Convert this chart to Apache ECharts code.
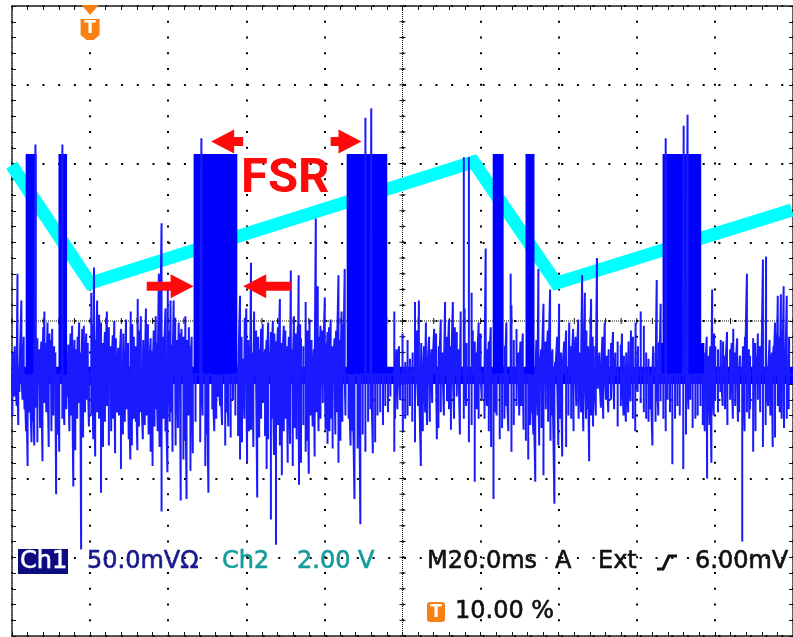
<!DOCTYPE html>
<html>
<head>
<meta charset="utf-8">
<script src="https://cdn.jsdelivr.net/npm/echarts@6/dist/echarts.min.js"></script>
<style>
html, body { margin: 0; padding: 0; background: #ffffff; }
#scope { width: 793px; height: 637px; }
</style>
</head>
<body>
<div id="scope"></div>
<script>
// Horizontal: 20 ms/div, trigger point (t = 0) at 10 % of the record
const timeRange = [-20, 180];
const timeStep = 20;
// Ch1: 50 mV/div, Ch2: 2.00 V/div (8 divisions, centred on 0)
const ch1Range = [-200, 200];
const ch1Step = 50;
const ch2Range = [-8, 8];
const ch2Step = 2;

// Ch2: ramp waveform, vertices [ms, V]
const ch2Ramp = [[-20.1, 3.96], [0.0, 0.96], [98.2, 4.04], [119.4, 0.96], [179.7, 2.82]];

// Ch1: noise floor level and its solid band, mV
const ch1Baseline = -34;
const ch1NoiseBand = [-29, -40];

// Ch1: FSR bursts [start ms, end ms, top mV]
const ch1Bursts = [
  [-16.5, -13.7, 106],
  [-8.1, -5.9, 106],
  [26.5, 37.7, 106],
  [65.7, 76.1, 106],
  [103.1, 105.9, 106],
  [111.5, 113.8, 106],
  [146.6, 156.5, 106],
  [145.3, 157.3, -14]
];

// Ch1: positive spikes [ms, peak mV]
const ch1SpikesUp = [
  [-19.8, -20], [-19.3, -16], [-18.6, 30], [-17.6, 13], [-17.0, -10], [-14.0, 112], [-13.5, -11], [-13.0, -18],
  [-12.5, -13], [-12.0, -4], [-11.7, 6], [-11.4, -14], [-10.9, -1], [-10.4, -8], [-10.0, -12], [-9.7, -5],
  [-9.2, -16], [-8.9, -20], [-7.1, 112], [-5.6, -15], [-5.0, -8], [-4.6, -3], [-4.0, -12], [-3.6, -18],
  [-3.2, -10], [-2.8, -1], [-2.5, -20], [-2.0, -5], [-1.6, -3], [-1.0, -8], [-0.6, -14], [0.3, 18], [0.6, -2],
  [1.0, 34], [1.4, -12], [1.8, 13], [2.3, 4], [2.8, -1], [3.3, -14], [3.8, -7], [4.3, 6], [4.8, -4], [5.3, -16],
  [5.8, -9], [6.2, 0], [6.6, -11], [7.2, -17], [7.9, -5], [8.5, -8], [9.2, 1], [9.7, -14], [10.4, 6], [10.8, -2],
  [11.2, -10], [11.7, -16], [12.2, 14], [12.7, -6], [13.0, 3], [13.6, -12], [14.3, 8], [14.8, -2], [15.5, -11],
  [15.9, -19], [16.3, -6], [16.8, 3], [17.0, -14], [17.6, 30], [18.3, 62], [18.8, -10], [19.3, 8], [19.9, 20],
  [20.2, -6], [20.6, 13], [21.0, -15], [21.4, 13], [21.8, 2], [22.2, -12], [22.7, -1], [23.0, -8], [23.4, -5],
  [23.9, -10], [24.4, 3], [24.9, -12], [25.3, -4], [25.7, -16], [26.0, -10], [28.5, 116],
  [38.4, 16], [38.8, -10], [39.2, -24], [39.6, 2], [40.0, 8], [40.5, -12], [41.0, -16], [41.2, 37], [41.6, -20],
  [42.0, 6], [42.5, -6], [43.0, -10], [43.4, -18], [43.8, -5], [44.2, -2], [44.8, -18], [45.2, -12], [45.6, -1],
  [46.0, -20], [46.3, -7], [46.8, 0], [47.2, -8], [47.6, -13], [48.1, -4], [48.6, 14], [49.1, -14], [49.6, -3],
  [50.0, -6], [50.4, -16], [50.9, -10], [51.4, 32], [51.8, -18], [52.2, 3], [52.7, -8], [53.2, -3], [53.4, 29],
  [53.8, -2], [54.0, -11], [54.6, -16], [55.2, 12], [55.7, -6], [56.2, 1], [56.7, -12], [57.3, -18], [57.8, 65],
  [58.3, 22], [58.7, -10], [59.0, -3], [59.5, -6], [60.1, 15], [60.4, -14], [60.8, -7], [61.2, -4], [61.6, 1],
  [62.1, -16], [62.6, -11], [63.0, -6], [63.6, 29], [64.0, -12], [64.4, 6], [64.8, -2], [65.2, 33], [70.5, 129],
  [72.0, 135],
  [77.9, 6], [78.5, -18], [79.1, -16], [80.0, -8], [80.7, -26], [81.3, -12], [81.9, -24], [82.6, -20], [83.2, 12],
  [83.7, -6], [84.2, 13], [84.8, -14], [85.5, -16], [86.0, -1], [86.8, -10], [87.4, -18], [88.1, -5], [88.6, -8],
  [89.3, -16], [89.8, 1], [90.3, -20], [90.9, 12], [91.4, -10], [91.9, 1], [92.4, -16], [92.9, 12], [93.4, -4],
  [93.9, -7], [94.4, -18], [94.9, 6], [95.7, 104], [95.9, 8], [96.4, -14], [97.0, 104], [97.7, 18], [98.0, -6],
  [98.5, -13], [99.0, -20], [99.5, -1], [100.0, -8], [101.3, 46], [101.8, -18], [102.1, -13], [102.6, -4],
  [106.2, -16], [106.6, -1], [107.7, 30], [107.9, 10], [108.5, -12], [109.2, -5], [109.7, -20], [110.2, -13],
  [110.8, -8], [114.3, -12], [114.8, 33], [115.5, -18], [116.1, 11], [116.6, -13], [117.2, -6], [117.8, 20],
  [118.4, -18], [119.1, -26], [119.6, -10], [120.1, 11], [120.6, -20], [121.4, -13], [121.9, -6], [122.7, -1],
  [123.2, -16], [123.7, -5], [124.3, -10], [125.0, 1], [125.5, -20], [126.0, 29], [126.7, 18], [127.1, -6],
  [127.5, -16], [127.9, -22], [128.3, 14], [128.7, -10],
  [129.0, -16], [129.8, 40], [130.4, -20], [131.2, -10], [131.8, -1], [132.3, -22], [132.8, -18], [133.4, -14],
  [133.9, -7], [134.5, -20], [135.1, -13], [135.9, -15], [136.2, -8], [136.7, -22], [137.3, -20], [137.9, -13],
  [138.5, -6], [139.0, -10], [139.7, -1], [140.3, -16], [141.0, 6], [141.8, -3], [142.4, -20], [143.0, -24],
  [144.2, -16], [144.8, -20], [145.1, 26], [145.8, -13], [146.1, 11], [147.4, 116], [152.0, 124], [153.0, 131],
  [157.5, -20], [157.9, -10], [158.3, -22], [158.8, -16], [159.3, 20], [159.8, -8], [160.1, -16], [160.8, -18],
  [161.5, -12], [162.1, -13], [162.6, -22], [163.1, -7], [163.9, -18], [164.3, -14], [164.7, -5], [165.2, -20],
  [165.7, -11], [166.4, -22], [167.2, -16], [167.7, -10], [168.2, 30], [168.7, -18], [169.0, -22], [169.8, -11],
  [170.3, -14], [170.8, -22], [171.0, -8], [171.5, -16], [171.9, -20], [172.3, 39], [173.1, 41], [174.0, -12],
  [174.6, -20], [175.0, -16], [175.4, -1], [175.8, -8], [176.1, 16], [176.5, -10], [176.9, 17], [177.3, -6],
  [177.6, 22], [178.0, -18], [178.4, 16], [179.0, -10]
];

// Ch1: negative spikes [ms, peak mV]
const ch1SpikesDown = [
  [-19.9, -60], [-19.5, -48], [-18.8, -54], [-18.4, -66], [-18.1, -45], [-17.3, -50], [-16.8, -56], [-16.4, -70],
  [-16.0, -92], [-15.5, -58], [-15.0, -77], [-14.7, -64], [-14.3, -79], [-13.9, -55], [-13.5, -77], [-12.8, -68],
  [-12.2, -89], [-11.7, -52], [-11.2, -58], [-10.6, -80], [-9.9, -70], [-9.4, -60], [-8.7, -110], [-8.2, -72],
  [-7.9, -83], [-7.1, -62], [-6.6, -66], [-6.1, -56], [-5.7, -48], [-5.3, -70], [-4.8, -60], [-4.3, -105],
  [-3.8, -82], [-3.3, -62], [-2.8, -52], [-2.3, -145], [-1.8, -74], [-1.3, -58], [-0.8, -50], [-0.3, -67],
  [0.3, -60], [0.8, -75], [1.3, -86], [1.8, -58], [2.3, -62], [2.8, -109], [3.3, -80], [3.8, -64], [4.3, -54],
  [4.8, -79], [5.4, -70], [5.9, -62], [6.4, -84], [6.9, -58], [7.4, -60], [7.9, -94], [8.4, -72], [8.9, -64],
  [9.4, -56], [9.9, -75], [10.3, -88], [10.7, -79], [11.2, -62], [11.7, -64], [12.1, -82], [12.5, -67],
  [13.0, -58], [13.5, -75], [14.0, -66], [14.5, -60], [15.0, -72], [15.5, -83], [16.0, -92], [16.5, -67],
  [16.9, -56], [17.3, -70], [17.8, -80], [18.3, -121], [18.8, -62], [19.3, -70], [19.8, -96], [20.4, -64],
  [20.8, -58], [21.1, -83], [21.9, -79], [22.5, -68], [23.2, -114], [23.9, -88], [24.3, -76], [24.7, -113],
  [25.2, -60], [25.7, -95], [26.3, -84], [27.0, -64],
  [28.2, -77], [28.8, -60], [29.5, -92], [29.9, -72], [30.3, -109], [31.3, -56], [31.8, -70], [32.3, -62],
  [32.8, -48], [33.3, -54], [33.8, -66], [34.6, -79], [35.0, -58], [35.4, -67], [36.0, -74], [36.6, -50],
  [37.2, -60], [37.9, -73], [38.4, -88], [38.9, -77], [39.5, -62], [40.2, -90], [40.7, -70], [41.2, -69],
  [41.8, -80], [42.8, -112], [43.3, -74], [43.8, -62], [44.3, -52], [44.8, -73], [45.2, -94], [45.6, -75],
  [46.3, -126], [46.8, -62], [47.1, -85], [47.6, -142], [48.1, -66], [48.6, -79], [49.1, -98], [49.6, -70],
  [50.1, -62], [50.6, -90], [51.2, -78], [51.9, -92], [52.4, -68], [52.9, -75], [53.5, -104], [54.0, -90],
  [54.6, -66], [55.2, -83], [55.6, -76], [56.0, -97], [56.5, -60], [57.0, -67], [57.5, -86], [58.0, -58],
  [58.5, -70], [59.0, -62], [59.6, -52], [60.3, -69], [60.8, -78], [61.3, -70], [61.7, -62], [62.1, -81],
  [62.8, -72], [63.1, -58], [63.6, -90], [64.1, -76], [64.6, -64], [65.4, -60], [66.2, -62], [66.7, -79],
  [67.2, -70], [67.7, -113], [68.5, -81], [68.9, -64], [69.2, -129], [69.8, -72], [70.5, -83], [71.2, -64],
  [71.8, -56], [72.4, -84], [73.0, -77], [73.6, -60], [74.3, -58], [75.0, -66], [75.6, -54], [76.3, -58],
  [76.9, -48], [77.9, -83], [78.1, -62],
  [78.7, -56], [79.4, -50], [80.1, -70], [80.7, -62], [81.3, -60], [81.9, -54], [82.5, -64], [83.2, -77],
  [84.0, -54], [84.7, -92], [85.2, -70], [85.8, -58], [86.3, -66], [87.0, -64], [87.6, -52], [88.8, -75],
  [89.2, -68], [89.8, -58], [90.6, -60], [91.4, -51], [91.9, -56], [92.4, -69], [93.2, -62], [93.9, -48],
  [94.7, -72], [95.7, -62], [96.3, -54], [97.0, -77], [97.7, -66], [98.5, -102], [99.0, -56], [99.5, -62],
  [100.3, -50], [101.0, -62], [101.6, -54], [102.1, -70], [102.7, -80], [103.3, -113], [103.7, -58],
  [104.1, -60], [104.9, -75], [105.5, -68], [106.1, -62], [106.6, -54], [107.1, -70], [107.9, -83], [108.5, -66],
  [109.2, -54], [109.9, -60], [110.4, -54], [111.0, -69], [111.6, -76], [112.2, -88], [112.7, -66], [113.0, -58],
  [113.5, -72], [114.0, -102], [114.6, -60], [115.0, -79], [115.6, -68], [116.1, -98], [116.7, -56], [117.3, -64],
  [117.9, -76], [118.4, -60], [118.9, -116], [119.9, -79], [120.4, -62], [120.9, -86], [121.9, -80], [122.5, -60],
  [123.2, -62], [123.8, -70], [124.5, -54], [125.1, -62], [125.7, -58], [126.3, -70], [127.0, -62], [127.3, -56],
  [127.8, -89], [128.3, -60], [128.8, -67],
  [129.5, -60], [130.0, -43], [130.8, -55], [131.4, -62], [132.1, -50], [132.7, -58], [133.4, -50], [134.2, -56],
  [135.1, -67], [135.9, -54], [136.6, -60], [137.2, -64], [137.8, -58], [138.4, -51], [139.0, -62], [139.6, -70],
  [140.2, -45], [141.0, -52], [141.8, -58], [142.4, -62], [143.0, -64], [143.5, -56], [144.0, -79], [144.8, -64],
  [145.5, -60], [146.1, -51], [146.8, -62], [147.4, -70], [147.9, -50], [148.5, -58], [149.1, -91], [149.8, -62],
  [150.4, -54], [151.0, -60], [151.9, -94], [152.6, -72], [153.2, -56], [153.7, -50], [154.3, -68], [155.0, -62],
  [155.6, -60], [156.3, -54], [156.9, -66], [157.4, -70], [158.0, -100], [158.6, -66], [159.1, -90], [159.7, -60],
  [160.1, -50], [160.8, -58], [161.4, -45], [162.0, -54], [162.6, -56], [163.2, -66], [163.9, -50], [164.6, -62],
  [165.2, -54], [165.9, -64], [166.2, -58], [167.0, -140], [167.6, -70], [168.2, -58], [168.8, -62], [169.0, -56],
  [169.8, -83], [170.4, -70], [171.0, -50], [171.6, -58], [172.3, -80], [173.0, -66], [173.6, -54], [174.2, -60],
  [174.8, -80], [175.4, -74], [176.1, -54], [176.6, -58], [177.1, -62], [177.7, -68], [178.4, -62], [178.9, -56]
];

// FSR annotation arrows [tail ms, tail mV, tip ms, tip mV]
const fsrArrows = [
  [39.2, 114, 31.0, 114],
  [61.6, 114, 69.5, 114],
  [14.5, 22, 26.5, 22],
  [51.4, 22, 39.2, 22]
];
const triggerTime = 0;

const BLUE = '#0000ff';
const CYAN = '#00ffff';
const ORANGE = '#f98012';
const RED = '#ff0a0a';
const GRID_INK = '#111111';
const FONT = '"DejaVu Sans", sans-serif';

// Each spike is drawn as a vertical excursion from the noise floor and back.
function spikePath() {
  const all = ch1SpikesUp.concat(ch1SpikesDown).sort((a, b) => a[0] - b[0]);
  const pts = [[timeRange[0], ch1Baseline]];
  all.forEach(([t, v]) => { pts.push([t, ch1Baseline], [t, v], [t, ch1Baseline]); });
  pts.push([timeRange[1], ch1Baseline]);
  return pts;
}

function borderAxis(extra) {
  return Object.assign({
    type: 'value',
    axisLine: { show: true, onZero: false, lineStyle: { color: GRID_INK, width: 1.5, type: [1, 1] } },
    axisTick: { show: true, inside: true, length: 4, lineStyle: { color: GRID_INK, width: 1 } },
    minorTick: { show: true, splitNumber: 5, length: 4, lineStyle: { color: GRID_INK, width: 1 } },
    axisLabel: { show: false },
    splitLine: { show: false }
  }, extra);
}

// centre cross of the graticule: fine dotted lines with a tick at every minor division
function renderCross(params, api) {
  const r = params.coordSys;
  const c = api.coord([(timeRange[0] + timeRange[1]) / 2, 0]);
  const div = api.size([timeStep, ch1Step]);
  const kids = [];
  const fine = { stroke: GRID_INK, lineWidth: 1, lineDash: [1, 1] };
  kids.push({ type: 'line', shape: { x1: r.x, y1: c[1], x2: r.x + r.width, y2: c[1] }, style: fine });
  kids.push({ type: 'line', shape: { x1: c[0], y1: r.y, x2: c[0], y2: r.y + r.height }, style: fine });
  const tick = { stroke: GRID_INK, lineWidth: 1 };
  for (let i = -25; i <= 25; i++) {
    const x = c[0] + i * div[0] / 5;
    kids.push({ type: 'line', shape: { x1: x, y1: c[1] - 3, x2: x, y2: c[1] + 3 }, style: tick });
  }
  for (let i = -20; i <= 20; i++) {
    const y = c[1] + i * div[1] / 5;
    kids.push({ type: 'line', shape: { x1: c[0] - 3, y1: y, x2: c[0] + 3, y2: y }, style: tick });
  }
  return { type: 'group', children: kids };
}

function renderBlock(params, api) {
  const p1 = api.coord([api.value(0), api.value(2)]);
  const p2 = api.coord([api.value(1), api.value(3)]);
  return {
    type: 'rect',
    shape: { x: p1[0], y: Math.min(p1[1], p2[1]), width: p2[0] - p1[0], height: Math.abs(p2[1] - p1[1]) },
    style: { fill: BLUE }
  };
}

function renderArrow(params, api) {
  const a = api.coord([api.value(0), api.value(1)]);
  const b = api.coord([api.value(2), api.value(3)]);
  const dx = b[0] - a[0], dy = b[1] - a[1];
  const len = Math.hypot(dx, dy);
  const ux = dx / len, uy = dy / len, nx = -uy, ny = ux;
  const shaft = 4.5, head = 12, headLen = 23;
  const bx = b[0] - ux * headLen, by = b[1] - uy * headLen;
  const pts = [
    [a[0] + nx * shaft, a[1] + ny * shaft],
    [bx + nx * shaft, by + ny * shaft],
    [bx + nx * head, by + ny * head],
    [b[0], b[1]],
    [bx - nx * head, by - ny * head],
    [bx - nx * shaft, by - ny * shaft],
    [a[0] - nx * shaft, a[1] - ny * shaft]
  ];
  return { type: 'polygon', shape: { points: pts }, style: { fill: RED } };
}

function renderTrigger(params, api) {
  const x = api.coord([api.value(0), 0])[0];
  const top = params.coordSys.y;
  return {
    type: 'group',
    children: [
      { type: 'polygon', shape: { points: [[x - 8.5, top - 1], [x + 8.5, top - 1], [x, top + 9]] }, style: { fill: ORANGE } },
      { type: 'polygon', shape: { points: [[x - 9.5, top + 13], [x + 9.5, top + 13], [x + 9.5, top + 29], [x + 3.5, top + 34], [x - 3.5, top + 34], [x - 9.5, top + 29]] }, style: { fill: ORANGE } },
      { type: 'text', x: x, y: top + 23, style: { text: 'T', fill: '#ffffff', font: 'bold 17px ' + FONT, align: 'center', verticalAlign: 'middle' } }
    ]
  };
}

function label(text, x, y, color, extra) {
  return Object.assign({
    type: 'text', x: x, y: y, z: 100,
    style: { text: text, fill: color, stroke: color, lineWidth: 0.6, font: '24px ' + FONT, verticalAlign: 'middle' }
  }, extra || {});
}

const chart = echarts.init(document.getElementById('scope'), null, { renderer: 'canvas' });

chart.setOption({
  animation: false,
  backgroundColor: '#ffffff',
  grid: { left: 12, top: 6, width: 786, height: 630, containLabel: false },
  xAxis: [
    borderAxis({ min: timeRange[0], max: timeRange[1], interval: timeStep, position: 'bottom',
      splitLine: { show: true, lineStyle: { color: '#000', width: 2, type: [2, 13.75], dashOffset: 1 } } }),
    borderAxis({ min: timeRange[0], max: timeRange[1], interval: timeStep, position: 'top' })
  ],
  yAxis: [
    borderAxis({ min: ch1Range[0], max: ch1Range[1], interval: ch1Step, position: 'left',
      splitLine: { show: true, lineStyle: { color: '#000', width: 2, type: [2, 13.72], dashOffset: 1 } } }),
    borderAxis({ min: ch2Range[0], max: ch2Range[1], interval: ch2Step, position: 'right' })
  ],
  series: [
    { type: 'custom', name: 'graticule', renderItem: renderCross, data: [[80, 0]], z: 1, silent: true },
    { type: 'line', name: 'Ch2', yAxisIndex: 1, data: ch2Ramp, showSymbol: false, symbol: 'none', z: 2,
      lineStyle: { color: CYAN, width: 13, cap: 'butt', join: 'miter' } },
    { type: 'custom', name: 'Ch1 floor', renderItem: renderBlock, z: 3, silent: true,
      data: [[timeRange[0], timeRange[1], ch1NoiseBand[0], ch1NoiseBand[1]]] },
    { type: 'custom', name: 'Ch1 bursts', renderItem: renderBlock, z: 4, silent: true,
      data: ch1Bursts.map(b => [b[0], b[1], b[2], ch1Baseline]) },
    { type: 'line', name: 'Ch1', data: spikePath(), showSymbol: false, symbol: 'none', z: 5,
      lineStyle: { color: '#1a1aff', width: 2 } },
    { type: 'custom', name: 'FSR', renderItem: renderArrow, data: fsrArrows, z: 6, silent: true },
    { type: 'custom', name: 'trigger', renderItem: renderTrigger, data: [[triggerTime]], z: 6, silent: true }
  ],
  graphic: [
    { type: 'text', x: 241, y: 180, z: 100, style: { text: 'FSR', fill: RED, font: 'bold 49px Roboto, sans-serif', verticalAlign: 'middle' } },
    { type: 'rect', shape: { x: 18, y: 549, width: 50, height: 25 }, z: 100, style: { fill: '#0c0c80' } },
    label('Ch1', 20, 561.5, '#ffffff', { z: 101 }),
    label('50.0mVΩ', 87, 561.5, '#1a1a8e'),
    label('Ch2', 222, 561.5, '#149c9c'),
    label('2.00 V', 297, 561.5, '#149c9c'),
    label('M20.0ms', 427, 561.5, '#111111'),
    label('A', 555, 561.5, '#111111'),
    label('Ext', 598, 561.5, '#111111'),
    { type: 'polyline', z: 100, shape: { points: [[657, 569], [663, 569], [669, 556], [677, 556]] }, style: { stroke: '#111111', lineWidth: 3, fill: null } },
    label('6.00mV', 695, 561.5, '#111111'),
    { type: 'rect', shape: { x: 427, y: 602, width: 18, height: 20, r: 3 }, z: 100, style: { fill: ORANGE } },
    { type: 'text', x: 436, y: 612.5, z: 101, style: { text: 'T', fill: '#ffffff', font: 'bold 17px ' + FONT, align: 'center', verticalAlign: 'middle' } },
    label('10.00 %', 455, 611.5, '#111111')
  ]
});
</script>
</body>
</html>
